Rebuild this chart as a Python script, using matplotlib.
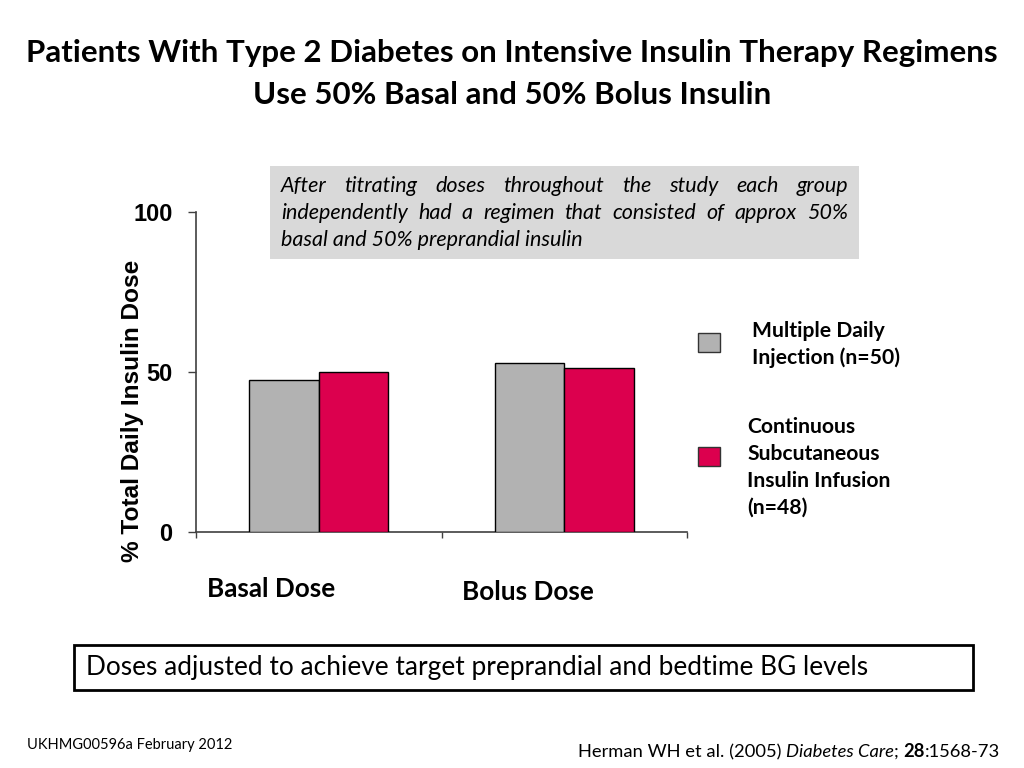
import matplotlib
matplotlib.use("Agg")
import matplotlib.pyplot as plt
from matplotlib.patches import Rectangle

# ---- data ----
categories = ["Basal Dose", "Bolus Dose"]
series_names = ["Multiple Daily\nInjection (n=50)",
                "Continuous\nSubcutaneous\nInsulin Infusion\n(n=48)"]
mdi_values = [47.5, 52.8]
csii_values = [50.0, 51.1]
y_ticks = [0, 50, 100]
title_lines = ["Patients With Type 2 Diabetes on Intensive Insulin Therapy Regimens",
               "Use 50% Basal and 50% Bolus Insulin"]
ylabel = "% Total Daily Insulin Dose"
note_lines = ["After titrating doses throughout the study each group",
              "independently had a regimen that consisted of approx 50%",
              "basal and 50% preprandial insulin"]
bottom_note = "Doses adjusted to achieve target preprandial and bedtime BG levels"
footer_left = "UKHMG00596a February 2012"

colors = ["#b2b2b2", "#dc004e"]
W, H = 1024, 768
CAL = ["Lato", "DejaVu Sans"]
ARI = ["Liberation Sans", "DejaVu Sans"]

fig = plt.figure(figsize=(W / 100, H / 100), dpi=100)
fig.patch.set_facecolor("white")

def fx(px):
    return px / W

def fy(py):
    return 1 - py / H

# ---- axes ----
ax = fig.add_axes([fx(196), fy(532), fx(687) - fx(196), fy(212) - fy(532)])
x = list(range(len(categories)))
bw = 0.284
ax.bar([i - bw / 2 for i in x], mdi_values, bw, color=colors[0],
       edgecolor="black", linewidth=1.0, zorder=3)
ax.bar([i + bw / 2 for i in x], csii_values, bw, color=colors[1],
       edgecolor="black", linewidth=1.0, zorder=3)
ax.set_xlim(-0.5, len(categories) - 0.5)
ax.set_ylim(0, 100)
for s in ["top", "right"]:
    ax.spines[s].set_visible(False)
for s in ["left", "bottom"]:
    ax.spines[s].set_color("#404040")
    ax.spines[s].set_linewidth(1.2)
ax.set_yticks(y_ticks)
ax.set_yticklabels([str(t) for t in y_ticks], fontfamily=ARI,
                   fontweight="bold", fontsize=17)
ax.set_xticks([i - 0.5 for i in range(len(categories) + 1)])
ax.set_xticklabels([])
ax.tick_params(axis="x", direction="out", length=4, width=1.0,
               color="#404040")
ax.tick_params(axis="y", direction="out", length=6, width=1.0,
               color="#404040", pad=11)

# y label
fig.text(fx(133), fy(411), ylabel, rotation=90, ha="center", va="center",
         fontfamily=ARI, fontweight="bold", fontsize=17.6)

# category labels
cat_pos = [(271, 589), (528, 592)]
for name, (px, py) in zip(categories, cat_pos):
    fig.text(fx(px), fy(py), name, ha="center", va="center",
             fontfamily=CAL, fontweight="bold", fontsize=18.8)

# ---- title ----
fig.text(0.5, fy(53), title_lines[0], ha="center", va="center",
         fontfamily=CAL, fontweight="bold", fontsize=22.5)
fig.text(0.5, fy(95), title_lines[1], ha="center", va="center",
         fontfamily=CAL, fontweight="bold", fontsize=22.5)

# ---- grey note box (justified) ----
fig.patches.append(Rectangle((fx(270), fy(259)), fx(859) - fx(270),
                             fy(166) - fy(259), transform=fig.transFigure,
                             facecolor="#d9d9d9", edgecolor="none", zorder=0))
renderer = fig.canvas.get_renderer()
x0, x1 = 281, 848
for i, line in enumerate(note_lines):
    yy = fy(186 + 27 * i)
    kw = dict(fontfamily=CAL, fontstyle="italic", fontsize=15.5,
              va="center", ha="left")
    if i == len(note_lines) - 1:
        fig.text(fx(x0), yy, line, **kw)
        continue
    words = line.split()
    ts = [fig.text(0, yy, w, **kw) for w in words]
    widths = [t.get_window_extent(renderer).width for t in ts]
    gap = (x1 - x0 - sum(widths)) / (len(words) - 1)
    cx = x0
    for t, w in zip(ts, widths):
        t.set_x(fx(cx))
        cx += w + gap

# ---- legend ----
leg_sq = [(698, 333), (698, 447)]
leg_txt = [(752, 331), (747, 427)]
for c, (sx, sy), name, (tx, ty) in zip(colors, leg_sq, series_names, leg_txt):
    fig.patches.append(Rectangle((fx(sx), fy(sy + 19)), fx(22), 19 / H,
                                 transform=fig.transFigure, facecolor=c,
                                 edgecolor="#333333", linewidth=1.0))
    for k, ln in enumerate(name.split("\n")):
        fig.text(fx(tx), fy(ty + 27 * k), ln, ha="left", va="center",
                 fontfamily=CAL, fontweight="bold", fontsize=15.2)

# ---- bottom box ----
fig.patches.append(Rectangle((fx(74), fy(690)), fx(973) - fx(74),
                             fy(645) - fy(690), transform=fig.transFigure,
                             facecolor="white", edgecolor="black",
                             linewidth=2.0))
fig.text(fx(86), fy(667), bottom_note, ha="left", va="center",
         fontfamily=CAL, fontsize=18.9)

# ---- footers ----
fig.text(fx(27), fy(745), footer_left, ha="left", va="center",
         fontfamily=CAL, fontsize=10.5)
ref_parts = [("Herman WH et al. (2005) ", "normal", "normal"),
             ("Diabetes Care", "italic", "normal"),
             ("; ", "normal", "normal"),
             ("28", "normal", "bold"),
             (":1568-73", "normal", "normal")]
ts = []
for txt, st, wt in ref_parts:
    ts.append(fig.text(0, fy(757), txt, ha="left", va="baseline",
                       fontfamily=CAL, fontsize=13.2, fontstyle=st,
                       fontweight=wt))
widths = [t.get_window_extent(renderer).width for t in ts]
cx = 1000 - sum(widths)
for t, w in zip(ts, widths):
    t.set_x(fx(cx))
    cx += w

fig.savefig("out.png", dpi=100)
